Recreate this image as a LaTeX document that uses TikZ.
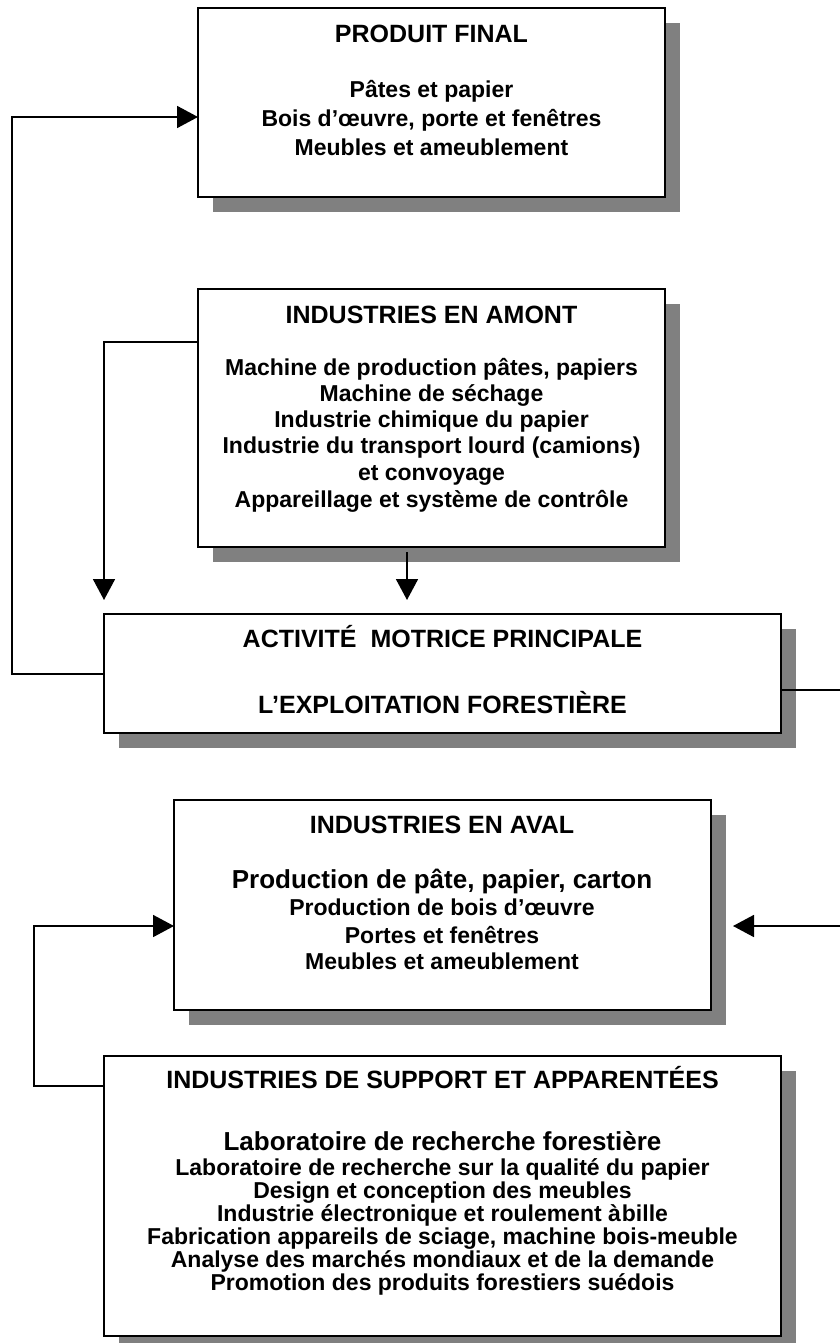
\documentclass[tikz,border=0pt]{standalone}
\usepackage{fontspec}
\setmainfont{Liberation Sans}
\usetikzlibrary{arrows.meta,shadows}
\definecolor{shade}{HTML}{808080}
\begin{document}
\begin{tikzpicture}[x=1pt,y=-1pt,
  box/.style={draw=black, line width=2pt, fill=white, inner sep=0pt, outer sep=0pt,
    drop shadow={shadow xshift=15pt, shadow yshift=-15pt, opacity=1, fill=shade}},
  ttl/.style={anchor=base, inner sep=0pt, font=\fontsize{25}{30}\selectfont\bfseries},
  txt/.style={anchor=base, inner sep=0pt, font=\fontsize{23}{27}\selectfont\bfseries},
  big/.style={anchor=base, inner sep=0pt, font=\fontsize{26}{30}\selectfont\bfseries},
  conn/.style={line width=1.8pt, draw=black},
  arr/.style={conn, -{Triangle[width=22pt,length=21pt]}}
]
\useasboundingbox (0,0) rectangle (839,1343);

% boxes
\node[box, minimum width=467pt, minimum height=189pt] (b1) at (431.5,102.5) {};
\node[box, minimum width=467pt, minimum height=258pt] (b2) at (431.5,418) {};
\node[box, minimum width=677pt, minimum height=119pt] (b3) at (442.5,673.5) {};
\node[box, minimum width=536.5pt, minimum height=210pt] (b4) at (442.25,905) {};
\node[box, minimum width=677pt, minimum height=280pt] (b5) at (442.5,1196) {};

% texts box 1
\node[ttl] (t1a) at (431.5,43) {PRODUIT FINAL};
\node[txt] (t1b) at (431.5,98) {Pâtes et papier};
\node[txt] (t1c) at (431.5,127) {Bois d’œuvre, porte et fenêtres};
\node[txt] (t1d) at (431.5,156) {Meubles et ameublement};

% texts box 2
\node[ttl] (t2a) at (431.5,323) {INDUSTRIES EN AMONT};
\node[txt] (t2b) at (431.5,375) {Machine de production pâtes, papiers};
\node[txt] (t2c) at (431.5,401) {Machine de séchage};
\node[txt] (t2d) at (431.5,427) {Industrie chimique du papier};
\node[txt] (t2e) at (431.5,453) {Industrie du transport lourd (camions)};
\node[txt] (t2f) at (431.5,480) {et convoyage};
\node[txt] (t2g) at (431.5,507) {Appareillage et système de contrôle};

% texts box 3
\node[ttl] (t3a) at (442.5,647) {ACTIVITÉ~~MOTRICE PRINCIPALE};
\node[ttl] (t3b) at (442.5,713) {L’EXPLOITATION FORESTIÈRE};

% texts box 4
\node[ttl] (t4a) at (442,833) {INDUSTRIES EN AVAL};
\node[big] (t4b) at (442,888) {Production de pâte, papier, carton};
\node[txt] (t4c) at (442,915) {Production de bois d’œuvre};
\node[txt] (t4d) at (442,943) {Portes et fenêtres};
\node[txt] (t4e) at (442,969) {Meubles et ameublement};

% texts box 5
\node[ttl] (t5a) at (442.5,1088) {INDUSTRIES DE SUPPORT ET APPARENTÉES};
\node[big] (t5b) at (442.5,1150) {Laboratoire de recherche forestière};
\node[txt] (t5c) at (442.5,1175) {Laboratoire de recherche sur la qualité du papier};
\node[txt] (t5d) at (442.5,1198) {Design et conception des meubles};
\node[txt] (t5e) at (442.5,1221) {Industrie électronique et roulement à\hspace{1pt}bille};
\node[txt] (t5f) at (442.5,1244) {Fabrication appareils de sciage, machine bois-meuble};
\node[txt] (t5g) at (442.5,1267) {Analyse des marchés mondiaux et de la demande};
\node[txt] (t5h) at (442.5,1290) {Promotion des produits forestiers suédois};

% connector coordinates
\coordinate (k1) at (12,117);
\coordinate (k2) at (104,342);
\coordinate (k3) at (407,552);
\coordinate (k4) at (843,690);
\coordinate (k5) at (843,926);
\coordinate (k6) at (34,926);
\coordinate (k7) at (34,1086);

% connectors
\draw[arr] (b3.west |- 0,674) -| (k1) -- (k1 -| b1.west);
\draw[arr, shorten >=14pt] (k2 -| b2.west) -| (b3.north west);
\draw[arr, shorten >=14pt] (k3) -- (k3 |- b3.north);
\draw[arr, shorten >=22.5pt] (k4 -| b3.east) -- (k4) -- (k5) -- (k5 -| b4.east);
\draw[arr] (k7 -| b5.west) -- (k7) -- (k6) -- (k6 -| b4.west);
\end{tikzpicture}
\end{document}
